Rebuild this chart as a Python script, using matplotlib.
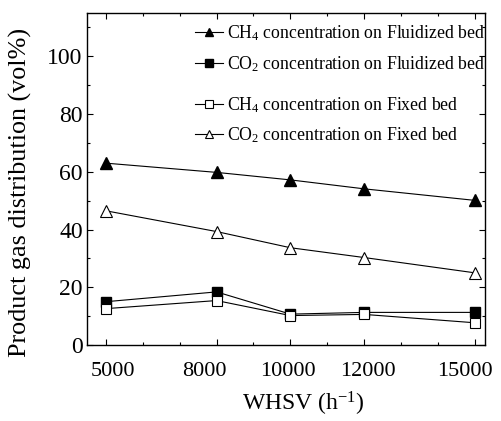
import matplotlib
matplotlib.use("Agg")
import matplotlib.pyplot as plt
from matplotlib.ticker import MultipleLocator
from matplotlib.transforms import ScaledTranslation

plt.rcParams['font.family'] = ['Liberation Serif', 'DejaVu Serif']
plt.rcParams['mathtext.fontset'] = 'custom'
plt.rcParams['mathtext.rm'] = 'Liberation Serif'
plt.rcParams['mathtext.it'] = 'Liberation Serif:italic'

whsv = [5000, 8000, 10000, 12000, 15000]
xtick_labels = ['5000', '8000', '10000', '12000', '15000']
ch4_fluid = [63.0, 59.8, 57.2, 54.1, 50.1]
co2_fluid = [15.0, 18.4, 10.7, 11.3, 11.3]
ch4_fixed = [12.6, 15.4, 10.2, 10.6, 7.7]
co2_fixed = [46.5, 39.3, 33.7, 30.3, 25.0]

fig = plt.figure(figsize=(5.02, 4.21), dpi=100)
ax = fig.add_axes([0.173, 0.1805, 0.793, 0.7885])

ms = 7.5
lw = 0.8
l1, = ax.plot(whsv, ch4_fluid, '-', color='black', lw=lw, marker='^', ms=ms+0.5,
              mfc='black', mec='black', label=r'CH$_4$ concentration on Fluidized bed')
l2, = ax.plot(whsv, co2_fluid, '-', color='black', lw=lw, marker='s', ms=ms,
              mfc='black', mec='black', label=r'CO$_2$ concentration on Fluidized bed')
l3, = ax.plot(whsv, ch4_fixed, '-', color='black', lw=lw, marker='s', ms=ms,
              mfc='white', mec='black', mew=0.8, label=r'CH$_4$ concentration on Fixed bed')
l4, = ax.plot(whsv, co2_fixed, '-', color='black', lw=lw, marker='^', ms=ms+0.5,
              mfc='white', mec='black', mew=0.8, label=r'CO$_2$ concentration on Fixed bed')

ax.set_xlim(4485, 15270)
ax.set_ylim(0, 115)
ax.set_xticks(whsv)
ax.set_xticklabels(xtick_labels)
ax.xaxis.set_minor_locator(MultipleLocator(1000))
ax.set_yticks([0, 20, 40, 60, 80, 100])
ax.yaxis.set_minor_locator(MultipleLocator(10))
ax.tick_params(which='both', direction='in', top=True, right=True, width=0.8)
ax.tick_params(which='major', length=4)
ax.tick_params(which='minor', length=2.5)
ax.tick_params(axis='y', labelsize=17, pad=3)
ax.tick_params(axis='x', labelsize=16, pad=12)
for s in ax.spines.values():
    s.set_linewidth(1.0)

# small horizontal offsets of x tick labels as in the reference (pixels)
offsets_px = [7, -12, -2, 4, -10]
for lab, dx in zip(ax.get_xticklabels(), offsets_px):
    lab.set_transform(lab.get_transform() + ScaledTranslation(dx / 100, 0, fig.dpi_scale_trans))

ax.set_ylabel('Product gas distribution (vol%)', fontsize=18.8)
ax.yaxis.set_label_coords(-0.138, 0.46)
ax.set_xlabel(r'WHSV (h$^{-1}$)', fontsize=17)
ax.xaxis.set_label_coords(0.543, -0.135)

leg_kw = dict(frameon=False, fontsize=12.8, handlelength=1.6, handletextpad=0.2,
              markerscale=0.75, labelspacing=0.6, borderaxespad=0.2, loc='upper left')
leg1 = ax.legend(handles=[l1, l2], bbox_to_anchor=(0.245, 1.0), **leg_kw)
ax.add_artist(leg1)
leg2 = ax.legend(handles=[l3, l4], bbox_to_anchor=(0.245, 0.785), **leg_kw)

fig.savefig('out.png', dpi=100)
